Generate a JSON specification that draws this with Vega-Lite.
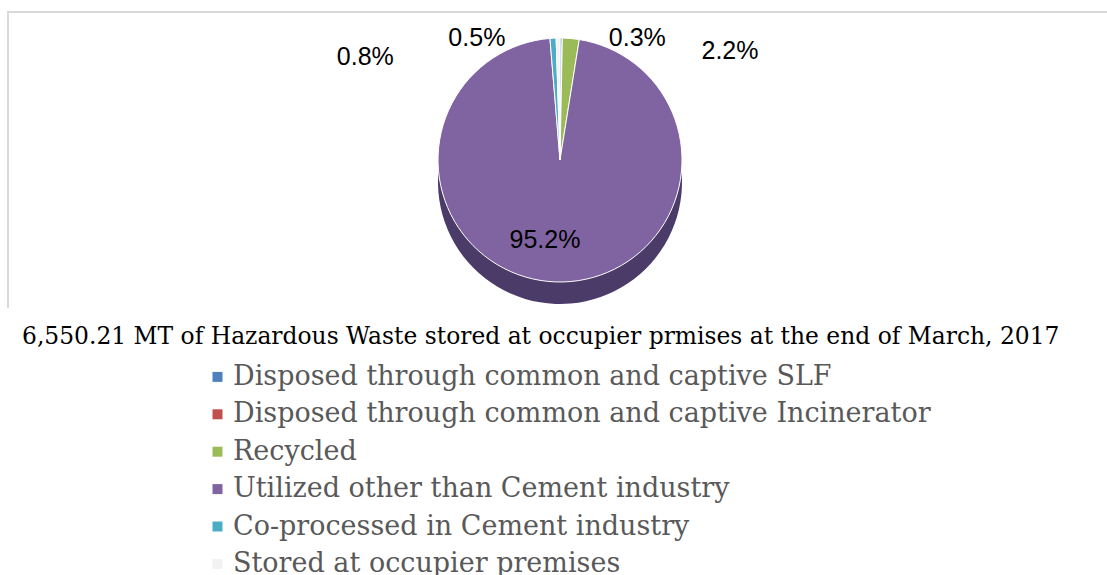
{
  "$schema": "https://vega.github.io/schema/vega-lite/v6.json",
  "width": 1104,
  "height": 296,
  "autosize": {"type": "none"},
  "padding": {"left": 8, "top": 12, "right": 0, "bottom": 267},
  "background": "white",
  "view": {"stroke": "#d9d9d9", "strokeWidth": 2, "strokeDash": [1104, 1400, 296, 10]},
  "data": {
    "values": [
      {"cat": "Disposed through common and captive SLF", "value": 0.3, "label": "0.3%", "idx": 1},
      {"cat": "Disposed through common and captive Incinerator", "value": 0, "label": "0.0%", "idx": 2},
      {"cat": "Recycled", "value": 2.2, "label": "2.2%", "idx": 3},
      {"cat": "Utilized other than Cement industry", "value": 95.2, "label": "95.2%", "idx": 4},
      {"cat": "Co-processed in Cement industry", "value": 0.8, "label": "0.8%", "idx": 5},
      {"cat": "Stored at occupier premises", "value": 0.5, "label": "0.5%", "idx": 6}
    ]
  },
  "encoding": {
    "theta": {"field": "value", "type": "quantitative", "stack": true},
    "order": {"field": "idx", "type": "quantitative"}
  },
  "layer": [
    {
      "mark": {"type": "arc", "radius": 122, "color": "#4a3b68", "yOffset": 22},
      "encoding": {}
    },
    {
      "mark": {"type": "arc", "radius": 122, "stroke": "white", "strokeWidth": 1},
      "encoding": {
        "color": {
          "field": "cat",
          "type": "nominal",
          "scale": {
            "domain": ["Disposed through common and captive SLF", "Disposed through common and captive Incinerator", "Recycled", "Utilized other than Cement industry", "Co-processed in Cement industry", "Stored at occupier premises"],
            "range": ["#4F81BD", "#C0504D", "#9BBB59", "#8064A2", "#4BACC6", "#F2F2F2"]
          },
          "legend": {
            "title": "6,550.21 MT of Hazardous Waste stored at occupier prmises at the end of March, 2017",
            "orient": "none",
            "legendX": 14,
            "legendY": 314,
            "direction": "vertical",
            "titleFont": "DejaVu Serif",
            "titleFontSize": 23.4,
            "titleFontWeight": "normal",
            "titleColor": "#000000",
            "titleLimit": 2000,
            "titlePadding": 14,
            "labelFont": "DejaVu Serif",
            "labelFontSize": 27,
            "labelColor": "#595959",
            "labelLimit": 2000,
            "labelOffset": 2,
            "symbolType": "square",
            "symbolSize": 100,
            "symbolStrokeWidth": 0,
            "symbolOffset": 182,
            "rowPadding": 9.4
          }
        }
      }
    },
    {
      "mark": {"type": "text", "radius": 80, "font": "Liberation Sans", "fontSize": 25, "color": "#000000", "dx": -12},
      "encoding": {"text": {"condition": {"test": "datum.idx === 4", "field": "label"}, "value": ""}}
    },
    {
      "mark": {"type": "text", "radius": 135, "font": "Liberation Sans", "fontSize": 25, "color": "#000000", "dx": 76, "dy": 13},
      "encoding": {"text": {"condition": {"test": "datum.idx === 1", "field": "label"}, "value": ""}}
    },
    {
      "mark": {"type": "text", "radius": 135, "font": "Liberation Sans", "fontSize": 25, "color": "#000000", "dx": 158, "dy": 25},
      "encoding": {"text": {"condition": {"test": "datum.idx === 3", "field": "label"}, "value": ""}}
    },
    {
      "mark": {"type": "text", "radius": 135, "font": "Liberation Sans", "fontSize": 25, "color": "#000000", "dx": -187, "dy": 32},
      "encoding": {"text": {"condition": {"test": "datum.idx === 5", "field": "label"}, "value": ""}}
    },
    {
      "mark": {"type": "text", "radius": 135, "font": "Liberation Sans", "fontSize": 25, "color": "#000000", "dx": -81, "dy": 13},
      "encoding": {"text": {"condition": {"test": "datum.idx === 6", "field": "label"}, "value": ""}}
    }
  ]
}
